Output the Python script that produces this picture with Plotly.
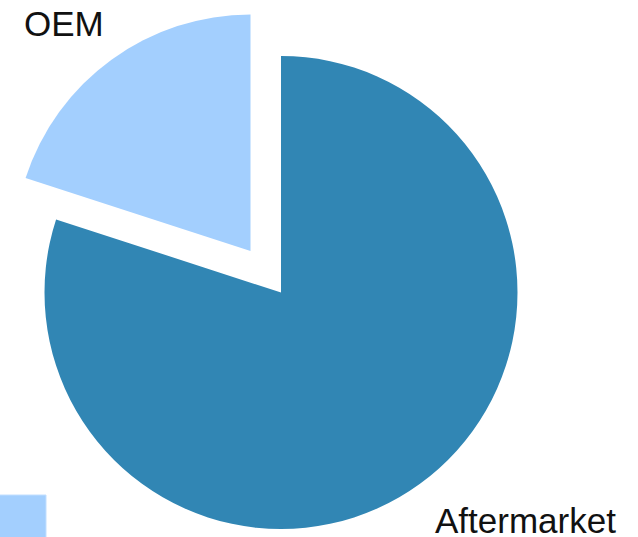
import plotly.graph_objects as go

labels = ["Aftermarket", "OEM"]
values = [80, 20]
colors = ["#3186b4", "#a3cffe"]

W, H = 638, 537
R = 236.5
cx, cy = 281.0, 292.5            # pie centre (px, from top-left)
pull_dx, pull_dy = -30.5, -41.5  # offset of the pulled OEM slice
# label placement (px): left edge, vertical centre of capitals
label_pos = {"Aftermarket": (434, 520), "OEM": (23, 23.5)}

def dom(cx, cy):
    return dict(x=[(cx - R) / W, (cx + R) / W],
                y=[(H - (cy + R)) / H, (H - (cy - R)) / H])

font = dict(family="Liberation Sans, Arial, sans-serif", size=35, color="#111111")
clear = "rgba(0,0,0,0)"

fig = go.Figure()
fig.add_trace(go.Pie(
    labels=labels, values=values, sort=False, direction="clockwise", rotation=0,
    marker=dict(colors=[colors[0], clear], line=dict(width=0)),
    textinfo="none", domain=dom(cx, cy), hoverinfo="skip", showlegend=False,
))
fig.add_trace(go.Pie(
    labels=labels, values=values, sort=False, direction="clockwise", rotation=0,
    marker=dict(colors=[clear, colors[1]], line=dict(width=0)),
    textinfo="none", domain=dom(cx + pull_dx, cy + pull_dy), hoverinfo="skip", showlegend=False,
))

for lab in labels:
    px, py = label_pos[lab]
    fig.add_annotation(text=lab, xref="paper", yref="paper",
                       x=px / W, y=(H - py) / H, xanchor="left", yanchor="middle",
                       showarrow=False, font=font, borderpad=0)

fig.add_shape(type="rect", xref="paper", yref="paper",
              x0=-0.01, x1=46 / W, y0=-0.01, y1=(H - 495) / H,
              fillcolor=colors[1], line=dict(color="#c2dfff", width=1))

fig.update_layout(width=W, height=H, autosize=False,
                  margin=dict(l=0, r=0, t=0, b=0, pad=0, autoexpand=False),
                  paper_bgcolor="white", plot_bgcolor="white", showlegend=False)
fig.write_html("out.html", config={"displayModeBar": False},
               post_script="document.body.style.margin='0px';")
